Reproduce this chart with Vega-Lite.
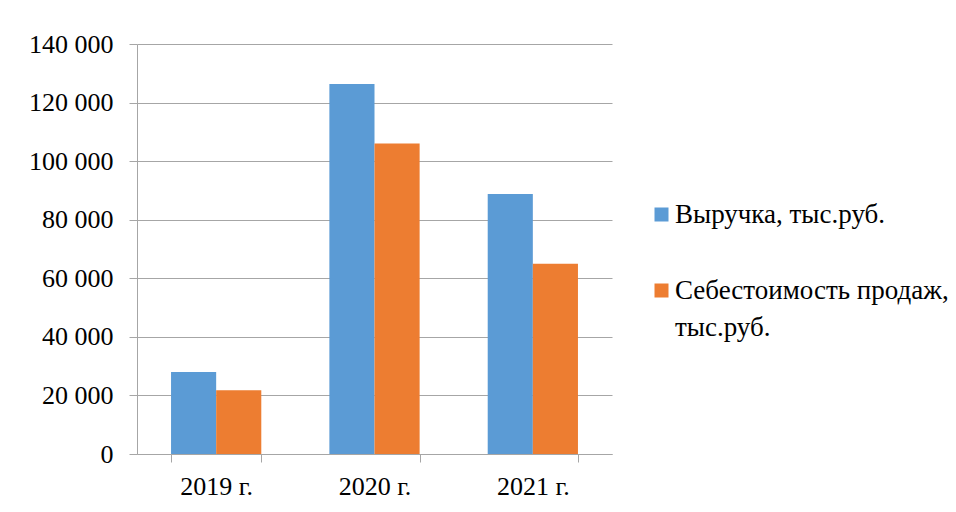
{
  "$schema": "https://vega.github.io/schema/vega-lite/v6.json",
  "autosize": {"type": "none"},
  "padding": {"left": 137, "top": 44, "right": 344, "bottom": 58},
  "width": 475,
  "height": 410,
  "background": "white",
  "data": {
    "values": [
      {"year": "2019 г.", "series": "Выручка, тыс.руб.", "value": 28000},
      {"year": "2019 г.", "series": "Себестоимость продаж, тыс.руб.", "value": 21800},
      {"year": "2020 г.", "series": "Выручка, тыс.руб.", "value": 126300},
      {"year": "2020 г.", "series": "Себестоимость продаж, тыс.руб.", "value": 106000},
      {"year": "2021 г.", "series": "Выручка, тыс.руб.", "value": 88800},
      {"year": "2021 г.", "series": "Себестоимость продаж, тыс.руб.", "value": 65000}
    ]
  },
  "mark": {"type": "bar"},
  "encoding": {
    "x": {
      "field": "year",
      "type": "nominal",
      "sort": null,
      "scale": {"paddingInner": 0.43, "paddingOuter": 0.215},
      "axis": {
        "title": null,
        "labelAngle": 0,
        "tickBand": "extent",
        "tickSize": 8,
        "labelPadding": 11,
        "domainColor": "#a6a6a6",
        "tickColor": "#a6a6a6",
        "labelFont": "Liberation Serif",
        "labelFontSize": 26,
        "labelColor": "#000000"
      }
    },
    "xOffset": {"field": "series", "type": "nominal", "sort": null},
    "y": {
      "field": "value",
      "type": "quantitative",
      "scale": {"domain": [0, 140000], "nice": false},
      "axis": {
        "title": null,
        "values": [0, 20000, 40000, 60000, 80000, 100000, 120000, 140000],
        "labelExpr": "replace(format(datum.value, ','), ',', ' ')",
        "tickSize": 8,
        "labelPadding": 16,
        "grid": true,
        "gridColor": "#a6a6a6",
        "domainColor": "#a6a6a6",
        "tickColor": "#a6a6a6",
        "labelFont": "Liberation Serif",
        "labelFontSize": 26,
        "labelColor": "#000000"
      }
    },
    "color": {
      "field": "series",
      "type": "nominal",
      "sort": null,
      "scale": {"range": ["#5B9BD5", "#ED7D31"]},
      "legend": {
        "title": null,
        "orient": "none",
        "legendX": 511,
        "legendY": 157,
        "symbolType": "square",
        "symbolSize": 196,
        "symbolStrokeWidth": 0,
        "symbolOpacity": 1,
        "labelFont": "Liberation Serif",
        "labelFontSize": 27,
        "labelColor": "#000000",
        "labelLimit": 400,
        "labelOffset": 0,
        "rowPadding": 48,
        "labelExpr": "datum.label == 'Себестоимость продаж, тыс.руб.' ? ['Себестоимость продаж,', 'тыс.руб.'] : datum.label",
        "encode": {
          "labels": {"update": {"lineHeight": {"value": 37}}}
        }
      }
    }
  },
  "config": {
    "view": {"stroke": null}
  }
}
